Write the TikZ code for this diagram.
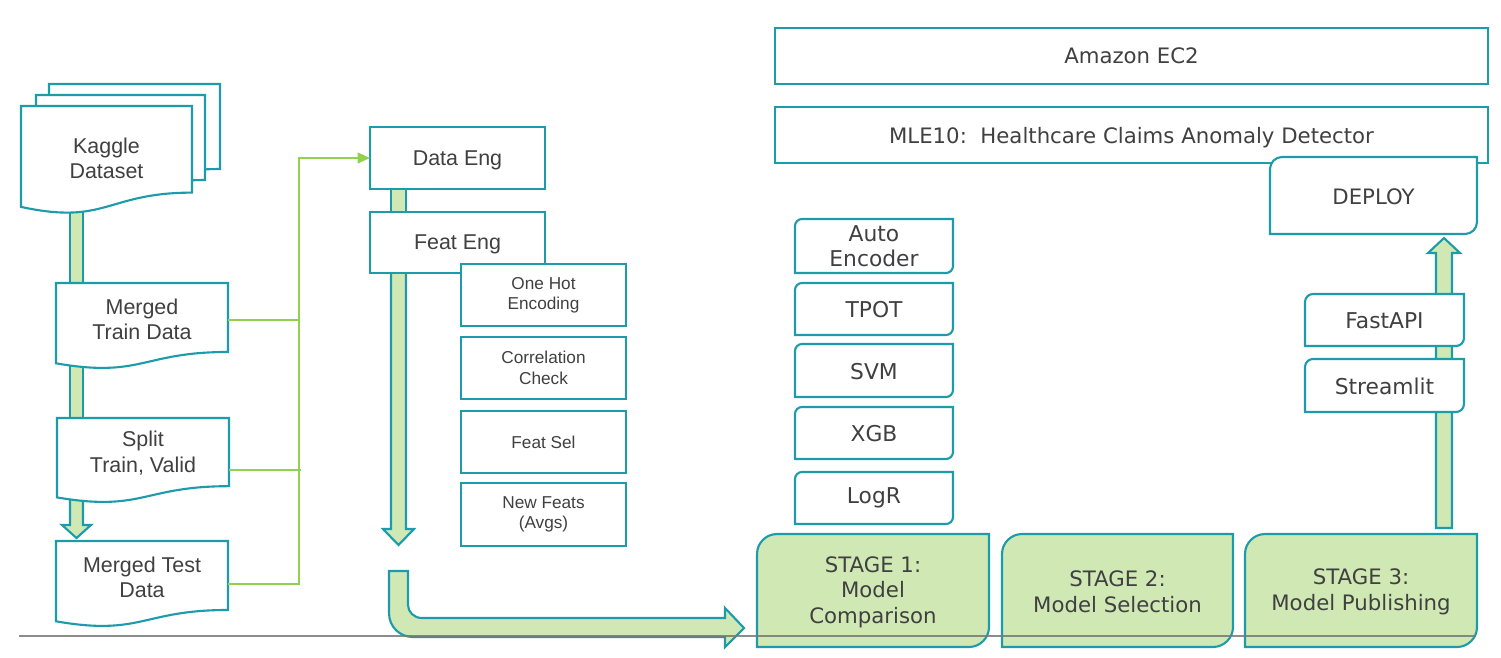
\documentclass[tikz,border=0pt]{standalone}
\usepackage{fontspec}
\setmainfont{Liberation Sans}
\newfontfamily\dv{DejaVu Sans}
\usetikzlibrary{arrows.meta,calc}
\definecolor{tealc}{RGB}{28,155,170}
\definecolor{lgreen}{RGB}{207,232,180}
\definecolor{cgreen}{RGB}{146,208,80}
\definecolor{txtc}{RGB}{64,64,64}
\definecolor{grayl}{RGB}{120,120,120}
\newcommand\docshape[4]{%
  \path[docst] (#1,#2) -- (#3,#2) -- (#3,#2+0.802*#4)
    .. controls ({(#1+#3)/2},#2+0.802*#4) and ({(#1+#3)/2},#2+1.107*#4) ..
    (#1,#2+0.934*#4) -- cycle;}
\newcommand\dshape[6]{%
  \path[#6] (#1,#2+#5) .. controls (#1,#2+0.45*#5) and (#1+0.45*#5,#2) .. (#1+#5,#2)
    -- (#3,#2) -- (#3,#4-#5) .. controls (#3,#4-0.45*#5) and (#3-0.45*#5,#4) .. (#3-#5,#4)
    -- (#1,#4) -- cycle;}
\begin{document}
\begin{tikzpicture}[x=0.02cm,y=-0.02cm,
  docst/.style={draw=tealc, line width=1.2pt, fill=white},
  barst/.style={draw=tealc, line width=1.2pt, fill=lgreen, line join=miter},
  wbox/.style={draw=tealc, line width=1.2pt, fill=white},
  gbox/.style={draw=tealc, line width=1.2pt, fill=lgreen},
  lbl/.style={text=txtc, align=center, inner sep=0pt, outer sep=0pt},
  docfont/.style={font=\fontsize{12.2}{14.4}\selectfont},
  smallfont/.style={font=\fontsize{9.8}{11.6}\selectfont},
  dvfont/.style={font=\dv\fontsize{12.1}{14.6}\selectfont},
  dvbig/.style={font=\dv\fontsize{12.4}{14.2}\selectfont},
  rbox/.style={draw=tealc, line width=1.2pt, fill=white, inner sep=0pt, outer sep=0pt, text=txtc, align=center},
  gline/.style={draw=cgreen, line width=1.2pt}]
\useasboundingbox (0,0) rectangle (1501,657);

% ---------- left column: documents ----------
\path[barst] (70,200) rectangle (83,286);
\path[barst] (70,360) rectangle (83,421);
\path[barst] (70,490) -- (70,525) -- (62,525) -- (76.5,538) -- (91,525) -- (83,525) -- (83,490) -- cycle;

\docshape{49}{84}{220}{106}
\docshape{36}{95}{205}{106}
\docshape{21}{106}{192}{108}
\node[lbl, docfont, minimum width=3.42cm] (kag) at (106.5,158) {Kaggle\\Dataset};

\docshape{56}{283}{228}{86}
\node[lbl, docfont, minimum width=3.44cm] (mtr) at (142,319) {Merged\\Train Data};

\docshape{57}{418}{229}{85}
\node[lbl, docfont, minimum width=3.44cm] (spl) at (143,453) {Split\\Train, Valid};

\docshape{56}{541}{228}{86}
\node[lbl, docfont, minimum width=3.44cm] (tst) at (142,577) {Merged Test\\Data};

% ---------- data / feature engineering ----------
\path[barst] (391,185) rectangle (406,215);
\path[barst] (391,268) -- (391,529) -- (383,529) -- (398.5,545) -- (414,529) -- (406,529) -- (406,268) -- cycle;

\node[rbox, docfont, text depth=0pt, minimum width=3.5cm, minimum height=1.24cm] (deng) at (457.5,158) {Data Eng};
\node[rbox, docfont, text depth=0pt, minimum width=3.5cm, minimum height=1.22cm] (feng) at (457.5,242.5) {Feat Eng};

\node[rbox, smallfont, minimum width=3.3cm, minimum height=1.24cm] (ohe) at (543.5,295) {One Hot\\Encoding};
\node[rbox, smallfont, minimum width=3.3cm, minimum height=1.24cm] (cor) at (543.5,368) {Correlation\\Check};
\node[rbox, smallfont, text depth=0pt, minimum width=3.3cm, minimum height=1.24cm] (fsel) at (543.5,442) {Feat Sel};
\node[rbox, smallfont, minimum width=3.3cm, minimum height=1.26cm] (nf) at (543.5,514.5) {New Feats\\(Avgs)};

% green connectors
\coordinate (trunk) at (299,0);
\draw[gline] (mtr.east) ++(0,1) -- ++(71,0);
\draw[gline] (spl.east) ++(0,17) -- ++(72,0);
\draw[gline, -{Triangle[length=7pt,width=6pt]}] (tst.east) ++(0,7) -| (trunk |- deng.west) -- (deng.west);

% U-shaped arrow
\path[barst] (389,571) -- (389,613) .. controls (389,627) and (400,637) .. (413,637)
  -- (725,637) -- (725,647) -- (744,628) -- (725,608) -- (725,618) -- (422,618)
  .. controls (414,618) and (408,612) .. (408,605) -- (408,571) -- cycle;

% ---------- right part ----------
\node[rbox, dvfont, text depth=0pt, minimum width=14.26cm, minimum height=1.12cm] (ec2) at (1131.5,56) {Amazon EC2};
\node[rbox, dvfont, text depth=0pt, minimum width=14.26cm, minimum height=1.12cm] (mle) at (1131.5,135) {MLE10:\ \ Healthcare Claims Anomaly Detector};

\dshape{1270}{157}{1477}{234}{12}{wbox}
\node[lbl, dvfont] (dep) at (1373.5,197) {DEPLOY};

% up arrow
\path[barst] (1436,528) -- (1436,253) -- (1428,253) -- (1444,238) -- (1460,253) -- (1452,253) -- (1452,528) -- cycle;

\dshape{1305}{294}{1464}{346}{8}{wbox}
\node[lbl, dvbig] (fapi) at (1384.5,321) {FastAPI};
\dshape{1305}{359}{1464}{412}{8}{wbox}
\node[lbl, dvbig] (stl) at (1384.5,386) {Streamlit};

% model boxes
\dshape{795}{219}{953}{273}{7}{wbox}
\node[lbl, dvbig] (ae) at (874,246.5) {Auto\\Encoder};
\dshape{795}{283}{953}{335}{7}{wbox}
\node[lbl, dvbig] (tpot) at (874,310) {TPOT};
\dshape{795}{344}{953}{397}{7}{wbox}
\node[lbl, dvbig] (svm) at (874,371.5) {SVM};
\dshape{795}{407}{953}{459}{7}{wbox}
\node[lbl, dvbig] (xgb) at (874,434) {XGB};
\dshape{795}{472}{953}{524}{7}{wbox}
\node[lbl, dvbig] (logr) at (874,498) {LogR};

% stage boxes
\dshape{757}{534}{989}{647}{20}{gbox}
\node[lbl, dvfont] (s1) at (873,592) {STAGE 1:\\Model\\Comparison};
\dshape{1002}{534}{1233}{647}{20}{gbox}
\node[lbl, dvfont] (s2) at (1117.5,592) {STAGE 2:\\Model Selection};
\dshape{1245}{534}{1477}{647}{20}{gbox}
\node[lbl, dvfont] (s3) at (1361,592) {STAGE 3:\\Model Publishing};

% base line
\draw[grayl, line width=1.2pt, opacity=0.85] (19,636) -- (1476,636);
\end{tikzpicture}
\end{document}
